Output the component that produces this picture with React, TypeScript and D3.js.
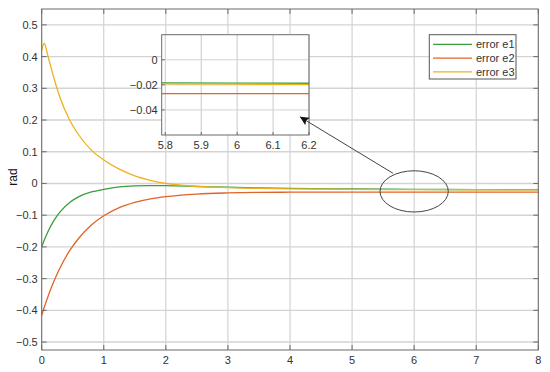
import React, { useEffect, useRef } from "react";
import * as d3 from "d3";

// time samples (s) and the three error signals
const time = [0, 0.04, 0.1, 0.2, 0.3, 0.45, 0.6, 0.8, 1, 1.25, 1.5, 1.75, 2, 2.5, 3, 3.5, 4, 5, 6, 7, 8];
const e1 = [-0.2, -0.179, -0.152, -0.1155, -0.0885, -0.06, -0.0417, -0.0269, -0.0186, -0.011, -0.0078, -0.0068, -0.007, -0.0095, -0.012, -0.014, -0.0155, -0.0175, -0.0186, -0.0192, -0.0196];
const e2 = [-0.416, -0.391, -0.357, -0.307, -0.264, -0.212, -0.172, -0.131, -0.102, -0.076, -0.0597, -0.0487, -0.0414, -0.0333, -0.0298, -0.0282, -0.0276, -0.0271, -0.027, -0.027, -0.027];
const e3 = [0.419, 0.442, 0.402, 0.33, 0.268, 0.2, 0.152, 0.105, 0.074, 0.045, 0.024, 0.01, 0.0, -0.009, -0.013, -0.0155, -0.017, -0.0185, -0.0195, -0.0198, -0.02];

const seriesNames = ["error e1", "error e2", "error e3"];
const seriesColors = ["#3a9e3a", "#e2632a", "#edb120"];
const xTicks = [0, 1, 2, 3, 4, 5, 6, 7, 8];
const yTicks = [-0.5, -0.4, -0.3, -0.2, -0.1, 0, 0.1, 0.2, 0.3, 0.4, 0.5];
const insetXTicks = [5.8, 5.9, 6, 6.1, 6.2];
const insetYTicks = [-0.04, -0.02, 0];

const fmt = (v: number) => (v < 0 ? "\u2212" + d3.format("")(-v) : d3.format("")(v));

export default function App() {
  const ref = useRef<SVGSVGElement>(null);

  useEffect(() => {
    const svg = d3.select(ref.current);
    svg.selectAll("*").remove();

    const font = "'Liberation Sans', Arial, sans-serif";
    const axisCol = "#6b6b6b";
    const gridCol = "#d3d3d3";
    const textCol = "#333";

    const L = 41.7, R = 538.3, T = 9, B = 350;
    const x = d3.scaleLinear().domain([0, 8]).range([L, R]);
    const y = d3.scaleLinear().domain([-0.525, 0.55]).range([B, T]);

    const series = [e1, e2, e3];

    // grid
    const g = svg.append("g");
    g.selectAll(".gx").data(xTicks).enter().append("line")
      .attr("x1", d => x(d)).attr("x2", d => x(d)).attr("y1", T).attr("y2", B)
      .attr("stroke", "#cacaca").attr("stroke-width", 1);
    g.selectAll(".gy").data(yTicks).enter().append("line")
      .attr("x1", L).attr("x2", R).attr("y1", d => y(d)).attr("y2", d => y(d))
      .attr("stroke", gridCol).attr("stroke-width", 1.4);

    // curves
    const line = d3.line<number>()
      .x((d, i) => x(time[i]))
      .y(d => y(d))
      .curve(d3.curveMonotoneX);
    series.forEach((s, k) => {
      svg.append("path").attr("d", line(s)).attr("fill", "none")
        .attr("stroke", seriesColors[k]).attr("stroke-width", 1.3);
    });

    // box + inward ticks
    svg.append("rect").attr("x", L).attr("y", T).attr("width", R - L).attr("height", B - T)
      .attr("fill", "none").attr("stroke", axisCol).attr("stroke-width", 1);
    xTicks.forEach(t => {
      svg.append("line").attr("x1", x(t)).attr("x2", x(t)).attr("y1", B).attr("y2", B - 5).attr("stroke", axisCol);
      svg.append("line").attr("x1", x(t)).attr("x2", x(t)).attr("y1", T).attr("y2", T + 5).attr("stroke", axisCol);
      svg.append("text").attr("x", x(t)).attr("y", B + 14).attr("text-anchor", "middle")
        .attr("font-family", font).attr("font-size", 11).attr("fill", textCol).text(fmt(t));
    });
    yTicks.forEach(t => {
      svg.append("line").attr("x1", L).attr("x2", L + 5).attr("y1", y(t)).attr("y2", y(t)).attr("stroke", axisCol);
      svg.append("line").attr("x1", R).attr("x2", R - 5).attr("y1", y(t)).attr("y2", y(t)).attr("stroke", axisCol);
      svg.append("text").attr("x", L - 4).attr("y", y(t) + 4).attr("text-anchor", "end")
        .attr("font-family", font).attr("font-size", 11).attr("fill", textCol).text(fmt(t));
    });
    svg.append("text").attr("transform", "translate(17,177) rotate(-90)").attr("text-anchor", "middle")
      .attr("font-family", font).attr("font-size", 12).attr("fill", "#111").text("rad");

    // ellipse around the zoomed region
    svg.append("ellipse").attr("cx", x(6)).attr("cy", y(-0.025))
      .attr("rx", x(6.55) - x(6)).attr("ry", y(-0.025) - y(0.04))
      .attr("fill", "none").attr("stroke", "#444").attr("stroke-width", 1);

    // inset
    const iL = 161.7, iR = 309, iT = 34.7, iB = 135;
    const ix = d3.scaleLinear().domain([5.79, 6.2]).range([iL, iR]);
    const iy = d3.scaleLinear().domain([-0.06, 0.02]).range([iB, iT]);
    svg.append("rect").attr("x", iL).attr("y", iT).attr("width", iR - iL).attr("height", iB - iT).attr("fill", "#fff");
    insetXTicks.forEach(t => {
      svg.append("line").attr("x1", ix(t)).attr("x2", ix(t)).attr("y1", iT).attr("y2", iB).attr("stroke", "#cacaca");
    });
    insetYTicks.forEach(t => {
      svg.append("line").attr("x1", iL).attr("x2", iR).attr("y1", iy(t)).attr("y2", iy(t)).attr("stroke", gridCol);
    });
    svg.append("clipPath").attr("id", "ic").append("rect")
      .attr("x", iL).attr("y", iT).attr("width", iR - iL).attr("height", iB - iT);
    const iline = d3.line<number>()
      .x((d, i) => ix(time[i]))
      .y(d => iy(d))
      .curve(d3.curveMonotoneX);
    series.forEach((s, k) => {
      svg.append("path").attr("d", iline(s)).attr("fill", "none").attr("clip-path", "url(#ic)")
        .attr("stroke", seriesColors[k]).attr("stroke-width", 1.3);
    });
    svg.append("rect").attr("x", iL).attr("y", iT).attr("width", iR - iL).attr("height", iB - iT)
      .attr("fill", "none").attr("stroke", axisCol);
    insetXTicks.forEach(t => {
      svg.append("line").attr("x1", ix(t)).attr("x2", ix(t)).attr("y1", iB).attr("y2", iB - 3).attr("stroke", axisCol);
      svg.append("text").attr("x", ix(t)).attr("y", iB + 14).attr("text-anchor", "middle")
        .attr("font-family", font).attr("font-size", 11).attr("fill", textCol).text(fmt(t));
    });
    insetYTicks.forEach(t => {
      svg.append("line").attr("x1", iL).attr("x2", iL + 3).attr("y1", iy(t)).attr("y2", iy(t)).attr("stroke", axisCol);
      svg.append("text").attr("x", iL - 4).attr("y", iy(t) + 4).attr("text-anchor", "end")
        .attr("font-family", font).attr("font-size", 11).attr("fill", textCol).text(fmt(t));
    });

    // arrow from ellipse to inset
    svg.append("defs").append("marker").attr("id", "ah").attr("viewBox", "0 0 10 10")
      .attr("refX", 10).attr("refY", 5).attr("markerWidth", 12).attr("markerHeight", 9)
      .attr("markerUnits", "userSpaceOnUse").attr("orient", "auto")
      .append("path").attr("d", "M0,0 L10,5 L0,10 L2,5 Z").attr("fill", "#111");
    svg.append("line").attr("x1", x(5.66)).attr("y1", y(0.032)).attr("x2", x(4.16)).attr("y2", y(0.21))
      .attr("stroke", "#444").attr("stroke-width", 1).attr("marker-end", "url(#ah)");

    // legend
    const lg = svg.append("g");
    lg.append("rect").attr("x", 429.3).attr("y", 34.7).attr("width", 86.7).attr("height", 44.3)
      .attr("fill", "#fff").attr("stroke", "#555").attr("stroke-width", 1);
    seriesNames.forEach((n, k) => {
      const ly = 44.3 + k * 13.8;
      lg.append("line").attr("x1", 433).attr("x2", 472).attr("y1", ly).attr("y2", ly)
        .attr("stroke", seriesColors[k]).attr("stroke-width", 1.3);
      lg.append("text").attr("x", 476).attr("y", ly + 4).attr("font-family", font)
        .attr("font-size", 11).attr("fill", textCol).text(n);
    });
  }, []);

  return (
    <svg ref={ref} width={550} height={372}
      style={{ position: "absolute", left: 0, top: 0, background: "#fff" }} />
  );
}
